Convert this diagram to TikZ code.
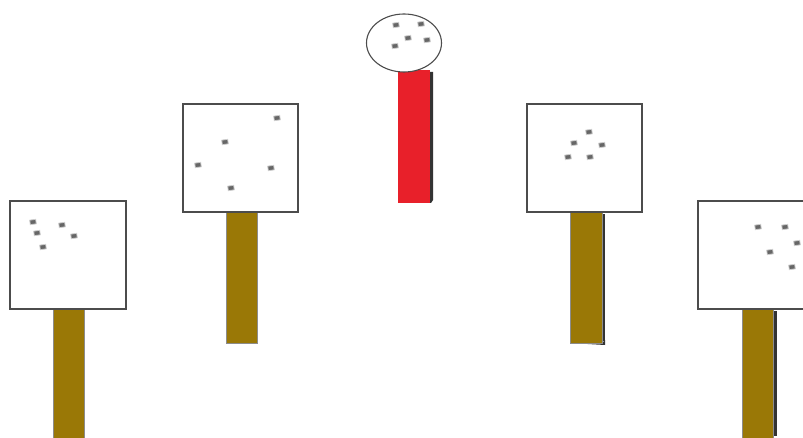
\documentclass[tikz,border=0pt]{standalone}
\begin{document}
\begin{tikzpicture}[x=1pt,y=-1pt,
  board/.style={draw=black!70,line width=1.2pt,fill=white},
  post/.style={fill=postcol,draw=black!45,line width=0.5pt},
  redpost/.style={fill=postred,draw=none},
  shade/.style={fill=black!80,draw=none},
  speck/.style={fill=black!60,draw=black!20,line width=0.8pt,minimum width=6pt,minimum height=4.5pt,inner sep=0pt,rotate=8}]
\definecolor{postcol}{HTML}{9A7806}
\definecolor{postred}{HTML}{E8202A}
\useasboundingbox (0,0) rectangle (803,438);
\clip (0,0) rectangle (803,438);
% panel 1
\draw[post] (53,309) rectangle (84,440);
\draw[board] (10,201) rectangle (126,309);
\foreach \n/\p in {a/{(33,222)},b/{(37,233)},c/{(62,225)},d/{(74,236)},e/{(43,247)}}
  \node[speck] (p1\n) at \p {};
% panel 2
\draw[post] (226,212) rectangle (257,343);
\draw[board] (183,104) rectangle (298,212);
\foreach \n/\p in {a/{(277,118)},b/{(225,142)},c/{(198,165)},d/{(271,168)},e/{(231,188)}}
  \node[speck] (p2\n) at \p {};
% centre
\fill[shade] (429,72) rectangle (433,200) -- (431,203) -- (398,203);
\fill[redpost] (398,70) rectangle (430,203);
\draw[board,line width=1.1pt] (404,43) ellipse [x radius=37.5,y radius=29];
\foreach \n/\p in {a/{(396,25)},b/{(421,24)},c/{(408,38)},d/{(427,40)},e/{(395,46)}}
  \node[speck] (p3\n) at \p {};
% panel 4
\fill[shade] (600,214) rectangle (605,341);
\fill[shade] (570,343) -- (602,343) -- (605,340) -- (605,345) -- cycle;
\draw[post] (570,212) rectangle (602,343);
\draw[board] (527,104) rectangle (642,212);
\foreach \n/\p in {a/{(589,132)},b/{(574,143)},c/{(602,145)},d/{(568,157)},e/{(590,157)}}
  \node[speck] (p4\n) at \p {};
% panel 5
\fill[shade] (771,311) rectangle (777,436);
\draw[post] (742,309) rectangle (773,440);
\draw[board] (698,201) rectangle (810,309);
\foreach \n/\p in {a/{(758,227)},b/{(785,227)},c/{(797,243)},d/{(770,252)},e/{(792,267)}}
  \node[speck] (p5\n) at \p {};
\end{tikzpicture}
\end{document}
